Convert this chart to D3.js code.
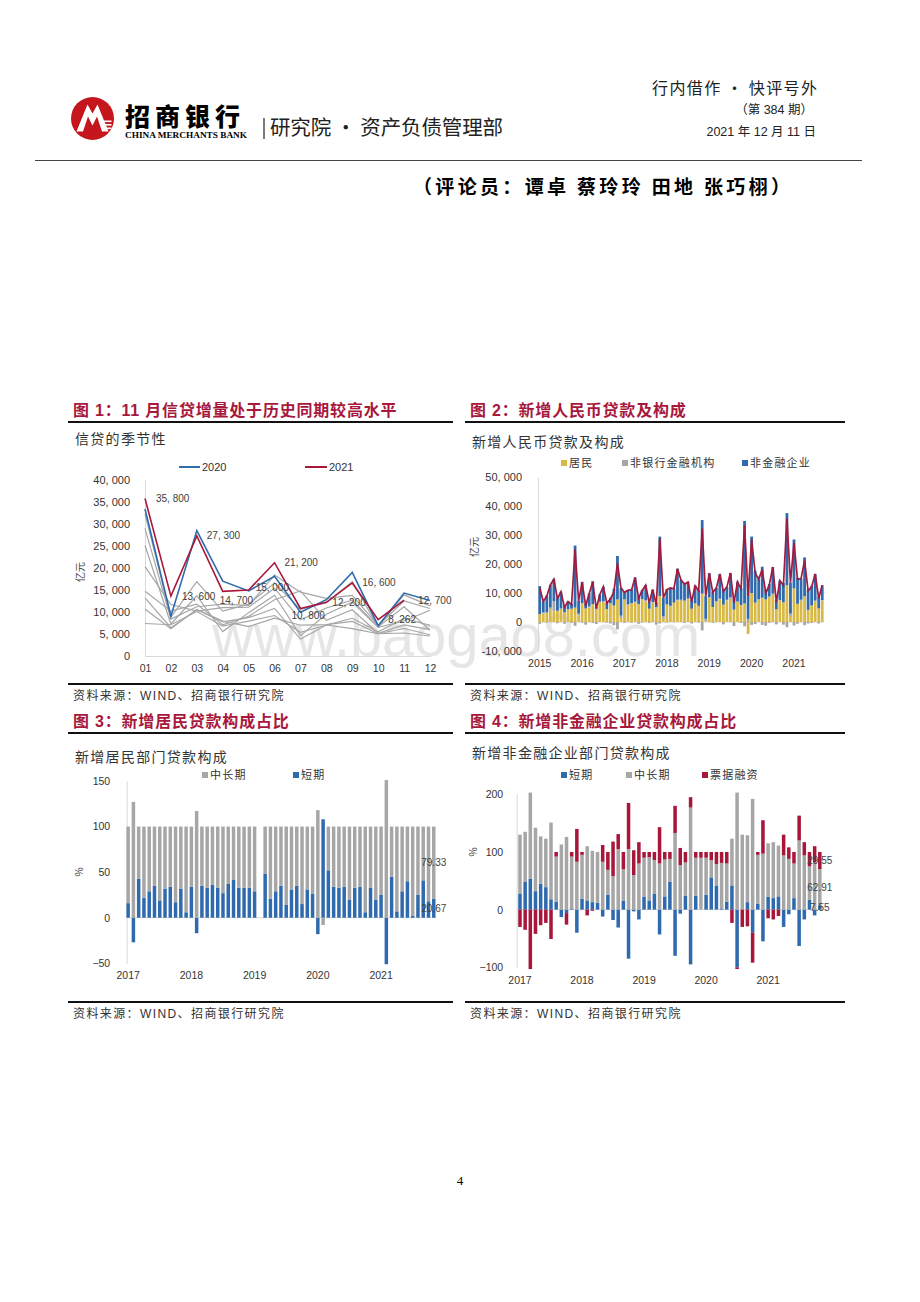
<!DOCTYPE html>
<html><head><meta charset="utf-8">
<script src="https://cdn.jsdelivr.net/npm/d3@7/dist/d3.min.js"></script>
<style>html,body{margin:0;padding:0;background:#fff;}svg{display:block;}</style>
</head><body>
<svg id="page" width="920" height="1302" xmlns="http://www.w3.org/2000/svg"></svg>
<script>
// ================= DATA =================
// Chart 1: monthly new RMB loans (100m yuan), seasonality
const months1 = ["01","02","03","04","05","06","07","08","09","10","11","12"];
const histYears1 = ["2012","2013","2014","2015","2016","2017","2018","2019"];
const y2012 = [7381,7107,10100,6818,7932,9198,5401,7039,6232,5053,5229,4543];
const y2013 = [10700,6200,10600,7929,6674,8605,6999,7113,7870,5064,6246,4825];
const y2014 = [13200,6445,10500,7747,8708,10800,3852,7025,8572,5483,8527,6973];
const y2015 = [14700,10200,11800,7079,9008,12800,14800,8096,10500,5136,7089,5978];
const y2016 = [25100,7266,13700,5556,9855,13800,4636,9487,12200,6513,7946,10400];
const y2017 = [20300,11700,10200,11000,11100,15400,8255,10900,12700,6632,11200,5844];
const y2018 = [29000,8393,11200,11800,11500,18400,14500,13100,13800,6970,12500,10800];
const y2019 = [32300,8858,16900,10200,11800,16600,10600,12100,16900,6613,13900,11400];
const y2020 = [33400,9057,28500,17000,14800,18100,9927,12800,19000,6898,14300,12600];
const y2021 = [35800,13600,27300,14700,15000,21200,10800,12200,16600,8262,12700];
const yTicks1 = [0,5000,10000,15000,20000,25000,30000,35000,40000];

// Chart 2: new RMB loans and composition, 2015-03 .. 2021-11 (100m yuan)
const total2 = [...y2015.slice(2), ...y2016, ...y2017, ...y2018, ...y2019, ...y2020, ...y2021];
const hh2 = [2700,3000,3300,4500,3700,3900,4500,3400,4300,4600,
 5000,2300,6500,4700,5000,6200,4600,6800,6900,4500,6500,5700,
 7800,1400,7800,5700,6500,6700,6200,7900,7000,4600,6700,5100,
 9000,1100,6100,5300,6700,7500,7300,7400,7900,4600,6200,5600,
 9800,200,8300,5200,6800,7800,6000,7400,8000,4300,6900,5900,
 6400,-4100,10000,6700,7600,8400,7800,8800,9400,4400,7400,6800,
 12700,2100,11600,6300,7300,8900,4200,5700,7000,4700,7400];
const nb2 = [-600,300,-200,500,3500,-400,200,-600,100,-300,
 -1300,600,-200,-900,400,-300,-700,200,300,-200,-500,-1100,
 -2500,800,-300,400,-200,300,-600,-200,600,-300,200,-900,
 -500,900,-200,300,-100,200,400,-300,200,-500,300,-200,
 -2900,900,300,-300,400,300,-800,300,500,-1400,200,-300,
 -1500,1100,-1000,-700,300,-1000,-1300,-300,400,-800,200,-900,
 -1800,800,-1200,-600,400,-1100,-500,-300,400,-500,200];
const corp2 = [9700,3800,5900,7800,7600,4600,5800,2300,2700,1700,
 21400,4400,7400,1800,4500,7900,700,2500,5000,2200,1900,5800,
 15000,9500,2700,4900,4800,8400,2700,3200,5100,2300,4300,1600,
 20500,6400,5300,6200,4900,10700,6800,6000,5700,2900,6000,5400,
 25400,7800,8300,5300,4600,8500,5400,4400,8400,3700,6800,5800,
 28500,12100,19500,11000,6900,10700,3400,4300,9200,3300,6700,6700,
 24900,10700,16900,9000,7300,13400,7100,6800,9200,4100,5100];
const yTicks2 = [-10000,0,10000,20000,30000,40000,50000];

// Chart 3: household new loans composition (%), 2017-01 .. 2021-11
const short3 = [16,-27,43,22,29,35,19,32,34,17,32,6,
 34,-17,35,33,36,33,27,37,42,33,33,33,
 29,null,48,21,29,35,14,31,35,15,31,26,
 -18,108,52,34,33,34,20,33,34,6,33,20,
 25,-51,45,7,29,40,2,25,41,18,20.67];
const long3 = [84,127,57,78,71,65,81,68,66,83,68,94,
 66,117,65,67,64,67,73,63,58,67,67,67,
 71,null,52,79,71,65,86,69,65,85,69,74,
 118,-8,48,66,67,66,80,67,66,94,67,80,
 75,151,55,93,71,60,98,75,59,82,79.33];
const yTicks3 = [-50,0,50,100,150];

// Chart 4: non-financial corporate new loans composition (%), 2017-01 .. 2021-11
const short4 = [28,48,54,32,45,39,18,14,-13,-6,2,-40,
 19,16,13,12,-12,26,-18,-31,15,-85,-3,-17,
 22,16,28,-43,23,48,-80,-7,24,-95,24,0,
 26,56,42,2,14,42,-100,0,13,-40,10,-55,
 22,20,23,-30,-8,20,-63,-17,17,-10,7.55];
const long4 = [102,87,149,110,82,84,133,78,113,126,90,83,
 76,94,89,88,83,43,58,105,55,105,60,80,
 68,75,58,80,64,40,133,77,58,177,66,90,
 64,30,37,79,66,81,203,130,116,192,85,97,
 93,97,88,94,88,60,120,94,58,82,62.91];
const bill4 = [-30,-35,-103,-42,-27,-23,-51,8,0,-20,8,57,
 5,-10,-2,0,29,31,60,26,30,80,43,37,
 10,9,14,63,13,12,47,30,18,18,10,10,
 10,14,21,19,20,-23,-3,-30,-29,-52,5,58,
 -15,-17,-11,36,20,20,43,23,25,28,29.55];
const yTicks4 = [-100,0,100,200];

// ================= DRAW =================
const svg = d3.select("#page");
svg.append("rect").attr("width",920).attr("height",1302).attr("fill","#fff");
const CN = "'Noto Sans CJK SC','Noto Sans',sans-serif";
const LAT = "'Liberation Sans','Noto Sans CJK SC',sans-serif";
const SERIF = "'Liberation Serif','DejaVu Serif',serif";
const TRED = "#a8183c";

function T(p,x,y,str,o){o=o||{};
  const t=p.append("text").attr("x",x).attr("y",y).attr("font-family",o.ff||LAT)
   .attr("font-size",o.fs||12).attr("fill",o.fill||"#000").attr("text-anchor",o.anchor||"start").text(str);
  if(o.fw) t.attr("font-weight",o.fw);
  if(o.ls) t.attr("letter-spacing",o.ls);
  if(o.tl) t.attr("textLength",o.tl).attr("lengthAdjust",o.la||"spacing");
  return t;}
function L(p,x1,y1,x2,y2,c,w){return p.append("line").attr("x1",x1).attr("y1",y1).attr("x2",x2).attr("y2",y2).attr("stroke",c).attr("stroke-width",w);}
function styleAxis(a,fs){a.attr("font-family",LAT).attr("font-size",fs);
  a.select(".domain").attr("stroke","#d9d9d9"); a.selectAll("text").attr("fill","#333");}
const fmtK = v => d3.format(",")(v).replace(/,/g,", ").replace("\u2212","-");

// watermark (behind)
T(svg,212,656,"www.baogao8.com",{fs:60,fill:"#e6e6e6",tl:488,la:"spacingAndGlyphs"});

// ---------- header ----------
const logo = svg.append("g").attr("transform","translate(92.5,118.5)");
logo.append("circle").attr("r",21.5).attr("fill","#c4161c");
logo.append("path").attr("d","M-16,13 L-5,-14 L0,-5 L5,-14 L16,13 L9.5,13 L4.5,-2 L0,7 L-4.5,-2 L-9.5,13 Z").attr("fill","#fff");
[2,5.5,9].forEach(dy=>logo.append("rect").attr("x",11).attr("y",dy).attr("width",8).attr("height",1.6).attr("fill","#fff"));
T(svg,125,126,"招商银行",{ff:CN,fs:25,fw:900,ls:5});
T(svg,125,137.5,"CHINA MERCHANTS BANK",{ff:SERIF,fs:8.6,fw:"bold",tl:122,la:"spacingAndGlyphs"});
L(svg,264,118,264,139,"#333",1.3);
T(svg,270,135,"研究院 · 资产负债管理部",{ff:CN,fs:20.5,fill:"#222",tl:233});
T(svg,652,94,"行内借作 · 快评号外",{ff:CN,fs:16,fill:"#222",tl:165});
T(svg,813,114,"（第 384 期）",{fs:12.5,anchor:"end",fill:"#222"});
T(svg,816,136,"2021 年 12 月 11 日",{fs:12.5,anchor:"end",fill:"#222"});
L(svg,35,160.5,862,160.5,"#444",1);
T(svg,413,194,"（评论员：谭卓 蔡玲玲 田地 张巧栩）",{ff:CN,fs:19,fw:"bold",tl:377});
T(svg,460,1185,"4",{ff:SERIF,fs:13,anchor:"middle"});

// ---------- panel frames ----------
function frame(x0,x1,titleY,lineY,bottomY,title,subtitle,subY,titleLs){
  T(svg,x0+5,titleY,title,{fs:16,fw:"bold",fill:TRED,ls:titleLs});
  L(svg,x0,lineY,x1,lineY,"#111",2);
  T(svg,x0+7,subY,subtitle,{ff:CN,fs:14,fill:"#333",ls:1.3});
  L(svg,x0,bottomY,x1,bottomY,"#111",2);
  T(svg,x0+5,bottomY+16,"资料来源：WIND、招商银行研究院",{fs:12,fill:"#333",ls:1.4});
}
frame(68,453,416,422,684,"图 1：11 月信贷增量处于历史同期较高水平","信贷的季节性",444,0.8);
frame(465,845,416,422,684,"图 2：新增人民币贷款及构成","新增人民币贷款及构成",447,0.8);
frame(68,453,727,733,1002,"图 3：新增居民贷款构成占比","新增居民部门贷款构成",762,0.8);
frame(465,845,727,733,1002,"图 4：新增非金融企业贷款构成占比","新增非金融企业部门贷款构成",758,0.8);

function legendSq(g,x,y,color,label){
  g.append("rect").attr("x",x).attr("y",y-3).attr("width",6).attr("height",6).attr("fill",color);
  T(g,x+8,y+4,label,{ff:CN,fs:11,fill:"#333",ls:1.2});
}
function rotLabel(g,x,y,str){
  g.append("text").attr("transform",`translate(${x},${y}) rotate(-90)`).attr("text-anchor","middle")
   .attr("font-family",CN).attr("font-size",10).attr("fill","#444").text(str);
}

// ---------- Chart 1 ----------
const g1 = svg.append("g");
const x1 = d3.scalePoint().domain(months1).range([145,430]);
const y1 = d3.scaleLinear().domain([0,40000]).range([656,480]);
styleAxis(g1.append("g").attr("transform","translate(145,0)")
  .call(d3.axisLeft(y1).tickValues(yTicks1).tickSize(0).tickSizeOuter(0).tickPadding(15).tickFormat(fmtK)),11);
styleAxis(g1.append("g").attr("transform","translate(0,656)")
  .call(d3.axisBottom(x1).tickSize(0).tickSizeOuter(0).tickPadding(8.5)),10.5);
rotLabel(g1,84,572,"亿元");
const line1 = d3.line().x((d,i)=>x1(months1[i])).y(d=>y1(d));
const hist1 = [y2012,y2013,y2014,y2015,y2016,y2017,y2018,y2019];
hist1.forEach(arr=>g1.append("path").attr("d",line1(arr)).attr("fill","none").attr("stroke","#a6a6a6").attr("stroke-width",1.2));
g1.append("path").attr("d",line1(y2020)).attr("fill","none").attr("stroke","#2e6cad").attr("stroke-width",1.6);
g1.append("path").attr("d",line1(y2021)).attr("fill","none").attr("stroke","#a7183b").attr("stroke-width",1.6);
L(g1,179,467,200,467,"#2e6cad",2); T(g1,202,471,"2020",{fs:11,fill:"#333"});
L(g1,305,467,327,467,"#a7183b",2); T(g1,329,471,"2021",{fs:11,fill:"#333"});
const lblOff1 = [[11,0],[11,0],[10,0],[-3,9],[7,-3],[10,0],[-9,7],[6,0],[10,0],[10,0],[14,0]];
y2021.forEach((v,i)=>T(g1,x1(months1[i])+lblOff1[i][0],y1(v)+lblOff1[i][1],fmtK(v),{fs:10,fill:"#404040"}).attr("dy","0.35em"));

// ---------- Chart 2 ----------
const g2 = svg.append("g");
const months2 = d3.timeMonth.range(new Date(2015,2,1), new Date(2021,11,1));
const idx2 = months2.map((d,i)=>i);
const x2 = d3.scaleBand().domain(idx2).range([538,824]).paddingInner(0.22).paddingOuter(0.11);
const y2 = d3.scaleLinear().domain([-10000,50000]).range([651,477.2]);
styleAxis(g2.append("g").attr("transform","translate(538,0)")
  .call(d3.axisLeft(y2).tickValues(yTicks2).tickSize(0).tickSizeOuter(0).tickPadding(16).tickFormat(fmtK)),11);
const xa2 = g2.append("g").attr("transform","translate(0,651)")
  .call(d3.axisBottom(x2).tickValues(idx2.filter(i=>i%12===0)).tickSize(0).tickSizeOuter(0).tickPadding(8.5)
  .tickFormat(i=>months2[i].getFullYear()));
styleAxis(xa2,10.5); xa2.select(".domain").remove();
L(g2,538,y2(0),824,y2(0),"#d9d9d9",1);
rotLabel(g2,478,547,"亿元");
const rows2 = idx2.map(i=>({hh:hh2[i],nb:nb2[i],corp:corp2[i]}));
const col2 = {hh:"#d9b945",nb:"#a6a6a6",corp:"#2e6aad"};
d3.stack().keys(["hh","nb","corp"]).offset(d3.stackOffsetDiverging)(rows2).forEach(s=>{
  g2.append("g").selectAll("rect").data(s).join("rect")
   .attr("x",(d,i)=>x2(i)).attr("width",x2.bandwidth())
   .attr("y",d=>y2(Math.max(d[0],d[1]))).attr("height",d=>Math.abs(y2(d[0])-y2(d[1])))
   .attr("fill",col2[s.key]);
});
g2.append("path").attr("d",d3.line().x((d,i)=>x2(i)+x2.bandwidth()/2).y(d=>y2(d))(total2))
  .attr("fill","none").attr("stroke","#a01b3d").attr("stroke-width",1.7);
legendSq(g2,561,463,col2.hh,"居民");
legendSq(g2,622,463,col2.nb,"非银行金融机构");
legendSq(g2,742,463,col2.corp,"非金融企业");

// ---------- Chart 3 ----------
const g3 = svg.append("g");
const months3 = d3.timeMonth.range(new Date(2017,0,1), new Date(2021,11,1));
const idx3 = months3.map((d,i)=>i);
const x3 = d3.scaleBand().domain(idx3).range([125.5,436.4]).paddingInner(0.34).paddingOuter(0.17);
const y3 = d3.scaleLinear().domain([-50,150]).range([963.3,781]);
styleAxis(g3.append("g").attr("transform","translate(126.7,0)")
  .call(d3.axisLeft(y3).tickValues(yTicks3).tickSize(0).tickSizeOuter(0).tickPadding(16.5)),10.5);
const xa3 = g3.append("g").attr("transform","translate(0,963.3)")
  .call(d3.axisBottom(x3).tickValues(idx3.filter(i=>i%12===0)).tickSize(0).tickSizeOuter(0).tickPadding(8.5)
  .tickFormat(i=>months3[i].getFullYear()));
styleAxis(xa3,10.5); xa3.select(".domain").remove();
L(g3,126.7,y3(0),436.4,y3(0),"#d9d9d9",1);
rotLabel(g3,83,872,"%");
const rows3 = idx3.filter(i=>short3[i]!==null).map(i=>({i,s:short3[i],l:long3[i]}));
const col3 = {s:"#2e6aad",l:"#a6a6a6"};
const st3 = d3.stack().keys(["s","l"]).offset(d3.stackOffsetDiverging)(rows3);
st3.forEach(s=>{
  g3.append("g").selectAll("rect").data(s).join("rect")
   .attr("x",d=>x3(d.data.i)).attr("width",x3.bandwidth())
   .attr("y",d=>y3(Math.max(d[0],d[1]))).attr("height",d=>Math.abs(y3(d[0])-y3(d[1])))
   .attr("fill",col3[s.key]);
});
st3.forEach(s=>{const d=s[s.length-1];
  T(g3,x3(d.data.i)+x3.bandwidth()/2,y3((d[0]+d[1])/2),d3.format(".2f")(d.data[s.key]),{fs:10,fill:"#404040",anchor:"middle"}).attr("dy","0.35em");});
legendSq(g3,202,775,col3.l,"中长期");
legendSq(g3,293,775,col3.s,"短期");

// ---------- Chart 4 ----------
const g4 = svg.append("g");
const months4 = d3.timeMonth.range(new Date(2017,0,1), new Date(2021,11,1));
const idx4 = months4.map((d,i)=>i);
const x4 = d3.scaleBand().domain(idx4).range([517.4,822.4]).paddingInner(0.32).paddingOuter(0.16);
const y4 = d3.scaleLinear().domain([-100,200]).range([967.3,794.3]);
styleAxis(g4.append("g").attr("transform","translate(516.7,0)")
  .call(d3.axisLeft(y4).tickValues(yTicks4).tickSize(0).tickSizeOuter(0).tickPadding(13.5)),10.5);
const xa4 = g4.append("g").attr("transform","translate(0,967.3)")
  .call(d3.axisBottom(x4).tickValues(idx4.filter(i=>i%12===0)).tickSize(0).tickSizeOuter(0).tickPadding(9)
  .tickFormat(i=>months4[i].getFullYear()));
styleAxis(xa4,10.5); xa4.select(".domain").remove();
L(g4,516.7,y4(0),822.4,y4(0),"#d9d9d9",1);
rotLabel(g4,477,852,"%");
const rows4 = idx4.map(i=>({i,s:short4[i],l:long4[i],b:bill4[i]}));
const col4 = {s:"#2e6aad",l:"#a6a6a6",b:"#a8163a"};
const st4 = d3.stack().keys(["s","l","b"]).offset(d3.stackOffsetDiverging)(rows4);
st4.forEach(s=>{
  g4.append("g").selectAll("rect").data(s).join("rect")
   .attr("x",d=>x4(d.data.i)).attr("width",x4.bandwidth())
   .attr("y",d=>y4(Math.max(d[0],d[1]))).attr("height",d=>Math.abs(y4(d[0])-y4(d[1])))
   .attr("fill",col4[s.key]);
});
st4.forEach(s=>{const d=s[s.length-1];
  T(g4,x4(d.data.i)+x4.bandwidth()/2,y4((d[0]+d[1])/2),d3.format(".2f")(d.data[s.key]),{fs:10,fill:"#404040",anchor:"middle"}).attr("dy","0.35em");});
legendSq(g4,561,775,col4.s,"短期");
legendSq(g4,626,775,col4.l,"中长期");
legendSq(g4,702,775,col4.b,"票据融资");
</script>
</body></html>
